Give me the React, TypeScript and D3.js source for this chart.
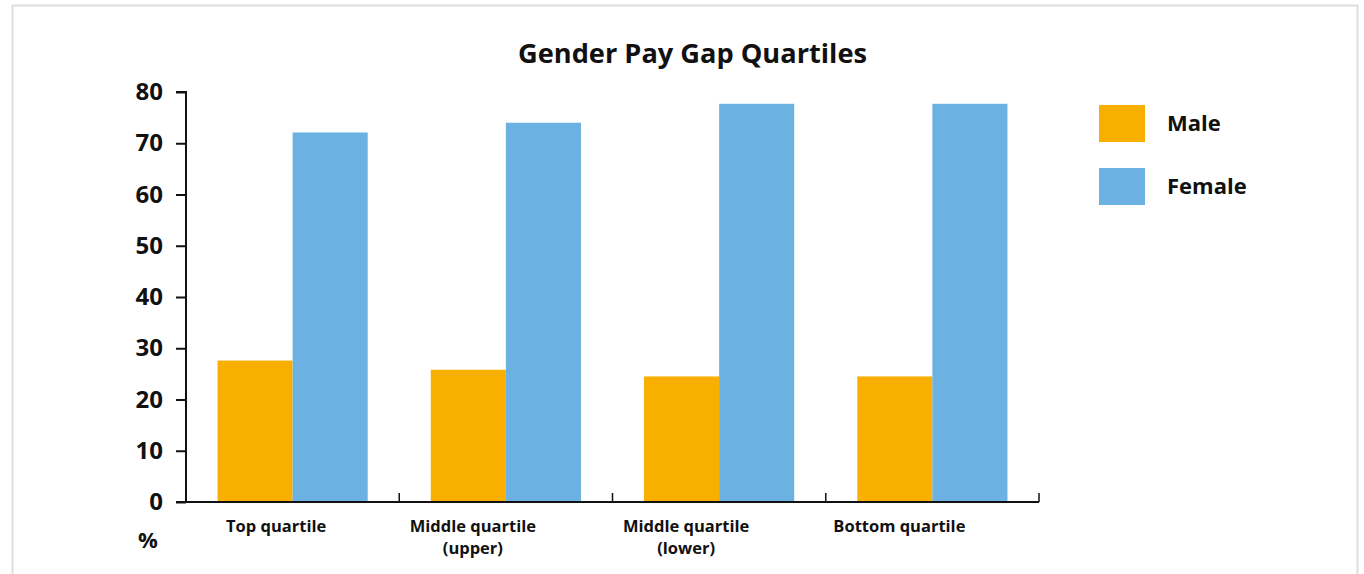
import React, { useEffect, useRef } from "react";
import * as d3 from "d3";

const categories = ["Top quartile", "Middle quartile\n(upper)", "Middle quartile\n(lower)", "Bottom quartile"];
const seriesNames = ["Male", "Female"];
const maleValues = [27.6, 25.8, 24.5, 24.5];
const femaleValues = [72.1, 74.0, 77.7, 77.7];
const yTicks = [0, 10, 20, 30, 40, 50, 60, 70, 80];
const colors = ["#F8AF00", "#6BB1E1"];
const labelShift = [-16.5, -33, -33, -33];

const FONT = "'Open Sans', sans-serif";

export default function App() {
  const ref = useRef<SVGSVGElement>(null);
  useEffect(() => {
    const svg = d3.select(ref.current);
    svg.selectAll("*").remove();
    const H = 574;
    const left = 186, right = 1039, top = 92, bottom = 502;

    // frame
    svg.append("path")
      .attr("d", `M12.5,${H} L12.5,5.5 L1357.5,5.5 L1357.5,${H}`)
      .attr("fill", "none").attr("stroke", "#e2ddd9").attr("stroke-width", 2);

    const x = d3.scaleBand<string>().domain(categories).range([left, right]).paddingInner(0).paddingOuter(0);
    const inner = d3.scaleBand<string>().domain(seriesNames).range([0, x.bandwidth()]).paddingOuter(0.42).paddingInner(0);
    const y = d3.scaleLinear().domain([0, 80]).range([bottom, top]);

    // title
    svg.append("text").attr("x", 692.5).attr("y", 63).attr("text-anchor", "middle")
      .attr("font-family", FONT).attr("font-weight", 700).attr("font-size", 27.2).attr("fill", "#111")
      .text("Gender Pay Gap Quartiles");

    // bars
    const data = categories.map((c, i) => ({ c, vals: [maleValues[i], femaleValues[i]] }));
    const g = svg.append("g");
    data.forEach(d => {
      d.vals.forEach((v, j) => {
        g.append("rect")
          .attr("x", (x(d.c) as number) + (inner(seriesNames[j]) as number))
          .attr("y", y(v))
          .attr("width", inner.bandwidth())
          .attr("height", y(0) - y(v))
          .attr("fill", colors[j]);
      });
    });

    // y axis
    const yAxis = d3.axisLeft(y).tickValues(yTicks).tickSize(10).tickPadding(13).tickFormat(d3.format("d"));
    const ya = svg.append("g").attr("transform", `translate(${left},0)`).call(yAxis);
    ya.select(".domain").attr("stroke", "#111").attr("stroke-width", 2).attr("d", `M-10,${top}H0V${bottom}`);
    ya.selectAll(".tick line").attr("stroke", "#111").attr("stroke-width", 2);
    ya.selectAll(".tick text").attr("font-family", FONT).attr("font-weight", 700).attr("font-size", 24).attr("fill", "#111");

    // x axis
    const xa = svg.append("g").attr("transform", `translate(0,${bottom})`);
    xa.append("line").attr("x1", left - 10).attr("x2", right).attr("y1", 0).attr("y2", 0)
      .attr("stroke", "#111").attr("stroke-width", 2);
    const bounds = [...categories.map(c => x(c) as number), right];
    bounds.forEach(b => {
      xa.append("line").attr("x1", b).attr("x2", b).attr("y1", 0).attr("y2", -9)
        .attr("stroke", "#111").attr("stroke-width", 1.5);
    });
    categories.forEach((c, ci) => {
      const lines = c.split("\n");
      const t = xa.append("text").attr("text-anchor", "middle")
        .attr("font-family", FONT).attr("font-weight", 700).attr("font-size", 16.5).attr("fill", "#111");
      lines.forEach((l, i) => {
        t.append("tspan").attr("x", (x(c) as number) + x.bandwidth() / 2 + labelShift[ci]).attr("y", 30 + i * 22).text(l);
      });
    });

    svg.append("text").attr("x", 148).attr("y", 548).attr("text-anchor", "middle")
      .attr("font-family", FONT).attr("font-weight", 700).attr("font-size", 22).attr("fill", "#111").text("%");

    // legend
    const lg = svg.append("g");
    seriesNames.forEach((s, i) => {
      lg.append("rect").attr("x", 1099).attr("y", 105 + i * 63).attr("width", 46).attr("height", 37).attr("fill", colors[i]);
      lg.append("text").attr("x", 1167).attr("y", 131 + i * 63)
        .attr("font-family", FONT).attr("font-weight", 700).attr("font-size", 22).attr("fill", "#111").text(s);
    });
  }, []);
  return (
    <svg ref={ref} width={1364} height={574} style={{ position: "absolute", left: 0, top: 0, background: "#fff" }} />
  );
}
